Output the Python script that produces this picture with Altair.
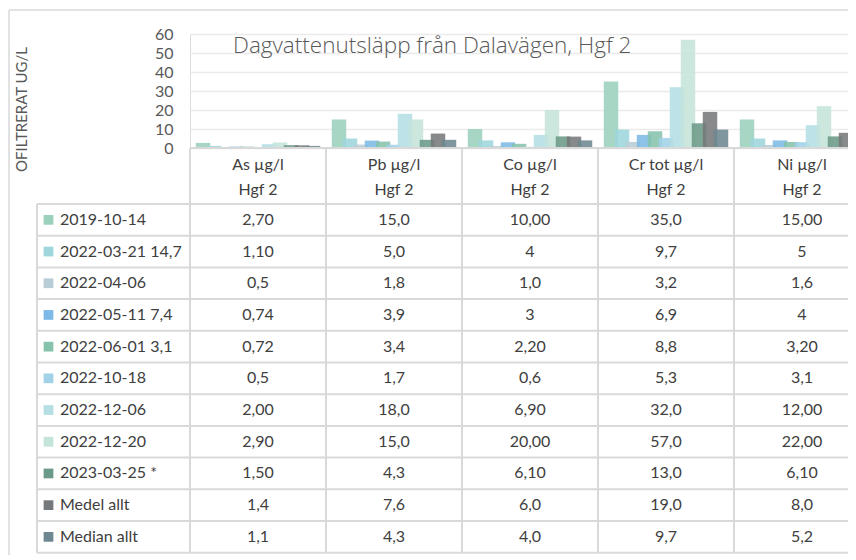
import altair as alt
import pandas as pd

# ---------------- data ----------------
columns = ["As µg/l", "Pb µg/l", "Co µg/l", "Cr tot µg/l", "Ni µg/l"]
subheader = "Hgf 2"
series = ["2019-10-14", "2022-03-21 14,7", "2022-04-06", "2022-05-11 7,4",
          "2022-06-01 3,1", "2022-10-18", "2022-12-06", "2022-12-20",
          "2023-03-25 *", "Medel allt", "Median allt"]
colors = ["#9BD0BD", "#9ED6DC", "#B8CDD5", "#7DB9E6", "#86C3AD", "#A2D2E8",
          "#B4DFE5", "#C4E4DA", "#6C9A88", "#76797B", "#6E8791"]

as_vals = ["2,70", "1,10", "0,5", "0,74", "0,72", "0,5", "2,00", "2,90", "1,50", "1,4", "1,1"]
pb_vals = ["15,0", "5,0", "1,8", "3,9", "3,4", "1,7", "18,0", "15,0", "4,3", "7,6", "4,3"]
co_vals = ["10,00", "4", "1,0", "3", "2,20", "0,6", "6,90", "20,00", "6,10", "6,0", "4,0"]
cr_vals = ["35,0", "9,7", "3,2", "6,9", "8,8", "5,3", "32,0", "57,0", "13,0", "19,0", "9,7"]
ni_vals = ["15,00", "5", "1,6", "4", "3,20", "3,1", "12,00", "22,00", "6,10", "8,0", "5,2"]
y_ticks = [0, 10, 20, 30, 40, 50, 60]
title_text = "Dagvattenutsläpp från Dalavägen, Hgf 2"
y_title = "OFILTRERAT UG/L"

table_vals = [as_vals, pb_vals, co_vals, cr_vals, ni_vals]

# ---------------- layout constants ----------------
FONT = "Lato"
TXT = "#404040"
LINE = "#D9D9D9"
COL_PX = 136.0          # width of one table column
PLOT_W = 658
PLOT_H = 114
ROW_PX = 31.7
TAB_TOP = 170.0         # first data row top, relative to plot top
LEG_W = 153.0 / COL_PX  # legend column width in column units
STRIDE = 11.0 / COL_PX  # bar spacing (bars overlap)
BAR_W = 14.5 / COL_PX
HDR_TOP = -(TAB_TOP - PLOT_H) / ROW_PX
n_rows = len(series)
n_cols = len(columns)

xs = alt.Scale(domain=[0, n_cols], range=[0, n_cols * COL_PX], nice=False, zero=False, padding=0)
ys_tab = alt.Scale(domain=[0, n_rows], range=[TAB_TOP, TAB_TOP + n_rows * ROW_PX],
                   nice=False, zero=False, padding=0)
ys_bar = alt.Scale(domain=[0, 60], nice=False, padding=0)
cs = alt.Scale(domain=series, range=colors)

# ---------------- frames ----------------
bars = []
for ci, vals in enumerate(table_vals):
    for si, s in enumerate(series):
        xc = ci + 0.5 + (si - (n_rows - 1) / 2) * STRIDE
        bars.append({"series": s, "order": si,
                     "x1": xc - BAR_W / 2, "x2": xc + BAR_W / 2,
                     "v": float(vals[si].replace(",", ".")), "v0": 0.0})
bars = pd.DataFrame(bars)

cells = pd.DataFrame([{"tx": ci + 0.5, "u": si + 0.5, "text": vals[si]}
                      for ci, vals in enumerate(table_vals) for si in range(n_rows)])

hdr = []
for ci, c in enumerate(columns):
    hdr.append({"tx": ci + 0.5, "u": (165 - 204) / ROW_PX, "text": c})
    hdr.append({"tx": ci + 0.5, "u": (190 - 204) / ROW_PX, "text": subheader})
hdr = pd.DataFrame(hdr)

leg = pd.DataFrame([{"series": s, "u": si + 0.5,
                     "sx": -LEG_W + 11.5 / COL_PX, "lx": -LEG_W + 23 / COL_PX}
                    for si, s in enumerate(series)])

hrules = pd.DataFrame([{"u": r, "x0": -LEG_W, "x1": n_cols} for r in range(n_rows + 1)]
                      + [{"u": HDR_TOP, "x0": 0, "x1": n_cols}])
vrules = pd.DataFrame([{"x": -LEG_W, "u0": 0, "u1": n_rows}]
                      + [{"x": c, "u0": HDR_TOP, "u1": n_rows} for c in range(n_cols + 1)])

title_df = pd.DataFrame([{"tx": 43 / COL_PX, "tv": 50.0, "text": title_text}])

# ---------------- layers ----------------
bar_layer = alt.Chart(bars).mark_bar(opacity=0.88).encode(
    x=alt.X("x1:Q", scale=xs, axis=None),
    x2="x2:Q",
    y=alt.Y("v:Q", scale=ys_bar,
            axis=alt.Axis(values=y_ticks, title=y_title, grid=True, gridColor="#EBEBEB",
                          gridWidth=1.5, domain=False, ticks=False, tickSize=0,
                          labelPadding=17, labelFontSize=16, labelFont=FONT,
                          labelColor="#595959", titleFont=FONT, titleFontSize=15,
                          titleFontWeight="normal", titleColor="#595959",
                          titleAngle=-90, titleX=-169, titleY=75,
                          titleAlign="center", titleBaseline="middle")),
    y2="v0:Q",
    color=alt.Color("series:N", scale=cs, legend=None),
    order=alt.Order("order:Q"),
)

title_layer = alt.Chart(title_df).mark_text(
    font="Open Sans", fontSize=22.5, fontWeight=300, color="#595959",
    align="left", baseline="alphabetic").encode(
    x=alt.X("tx:Q", scale=xs, axis=None),
    y=alt.Y("tv:Q", scale=ys_bar, axis=None),
    text="text:N",
)

h_layer = alt.Chart(hrules).mark_rule(color=LINE, strokeWidth=2).encode(
    x=alt.X("x0:Q", scale=xs, axis=None), x2="x1:Q",
    y=alt.Y("u:Q", scale=ys_tab, axis=None),
)
v_layer = alt.Chart(vrules).mark_rule(color=LINE, strokeWidth=2).encode(
    x=alt.X("x:Q", scale=xs, axis=None),
    y=alt.Y("u0:Q", scale=ys_tab, axis=None), y2="u1:Q",
)

cell_layer = alt.Chart(cells).mark_text(font=FONT, fontSize=16, color=TXT,
                                        align="center", baseline="middle").encode(
    x=alt.X("tx:Q", scale=xs, axis=None),
    y=alt.Y("u:Q", scale=ys_tab, axis=None),
    text="text:N",
)
hdr_layer = alt.Chart(hdr).mark_text(font=FONT, fontSize=16, color=TXT,
                                     align="center", baseline="middle").encode(
    x=alt.X("tx:Q", scale=xs, axis=None),
    y=alt.Y("u:Q", scale=ys_tab, axis=None),
    text="text:N",
)
sw_layer = alt.Chart(leg).mark_square(size=95, opacity=1).encode(
    x=alt.X("sx:Q", scale=xs, axis=None),
    y=alt.Y("u:Q", scale=ys_tab, axis=None),
    color=alt.Color("series:N", scale=cs, legend=None),
)
lab_layer = alt.Chart(leg).mark_text(font=FONT, fontSize=16, color=TXT,
                                     align="left", baseline="middle").encode(
    x=alt.X("lx:Q", scale=xs, axis=None),
    y=alt.Y("u:Q", scale=ys_tab, axis=None),
    text="series:N",
)

frame = alt.Chart(pd.DataFrame({"k": [0]})).mark_rule(color=LINE, strokeWidth=1.5).encode(
    x=alt.value(-181), x2=alt.value(PLOT_W), y=alt.value(-24))
frame_l = alt.Chart(pd.DataFrame({"k": [0]})).mark_rule(color=LINE, strokeWidth=1.5).encode(
    x=alt.value(-181), y=alt.value(-24), y2=alt.value(560))

chart = alt.layer(
    frame, frame_l, bar_layer, title_layer, h_layer, v_layer,
    hdr_layer, cell_layer, sw_layer, lab_layer
).resolve_scale(y="independent").properties(
    width=PLOT_W, height=PLOT_H,
    autosize=alt.AutoSizeParams(type="none"),
    padding={"left": 182, "top": 26, "right": 0, "bottom": 407},
).configure_view(stroke=None).configure(background="white")

chart.save("out.html", embed_options={"renderer": "svg", "actions": False})
